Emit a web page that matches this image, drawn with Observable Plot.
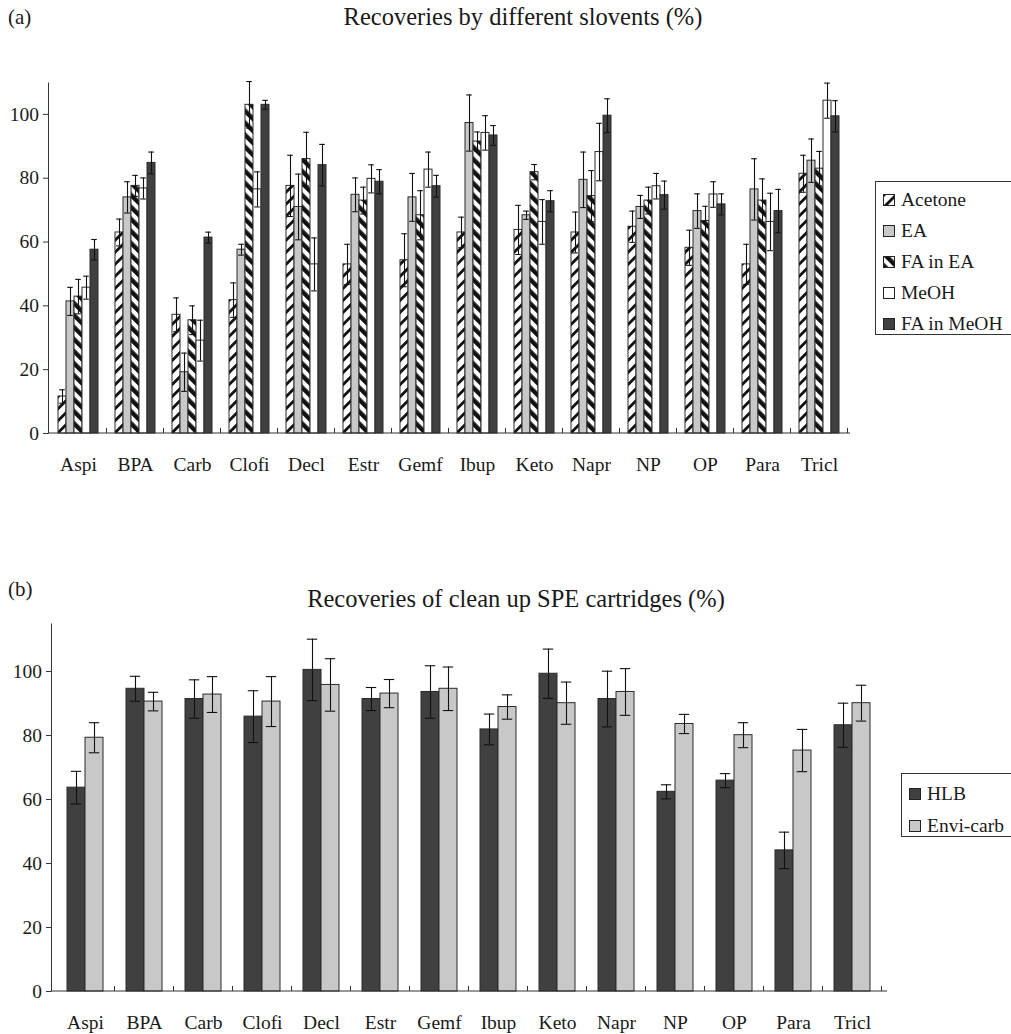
<!DOCTYPE html>
<html><head><meta charset="utf-8">
<script src="https://cdn.jsdelivr.net/npm/d3@7"></script>
<script src="https://cdn.jsdelivr.net/npm/@observablehq/plot@0.6"></script>
<style>
body{margin:0;background:#fff;}
#page{position:relative;width:1011px;height:1034px;overflow:hidden;font-family:"Liberation Serif","Times New Roman",serif;color:#1a1a1a;}
.t{position:absolute;white-space:nowrap;line-height:26px;}
.chart{position:absolute;left:0;}
.legend{position:absolute;border:1px solid #333;background:#fff;box-sizing:border-box;font-size:19.5px;}
.legend .row{display:flex;align-items:center;white-space:nowrap;}
.legend svg{margin-right:6px;flex:none;}
</style></head><body>
<svg width="0" height="0" style="position:absolute"><defs>
<pattern id="pAcetone" patternUnits="userSpaceOnUse" width="8.5" height="8.5" patternTransform="rotate(45)"><rect width="8.5" height="8.5" fill="#fff"/><rect width="2.8" height="8.5" fill="#111"/></pattern>
<pattern id="pFAEA" patternUnits="userSpaceOnUse" width="8.5" height="8.5" patternTransform="rotate(-45)"><rect width="8.5" height="8.5" fill="#fff"/><rect width="4.4" height="8.5" fill="#111"/></pattern>
</defs></svg>
<div id="page">
  <div class="t" style="left:8px;top:4px;font-size:21px">(a)</div>
  <div class="t" style="left:523px;top:4px;font-size:24.5px;transform:translateX(-50%)">Recoveries by different slovents (%)</div>
  <div class="t" style="left:8px;top:576px;font-size:21px">(b)</div>
  <div class="t" style="left:516px;top:586px;font-size:24.5px;transform:translateX(-50%)">Recoveries of clean up SPE cartridges (%)</div>
  <div id="chartA" class="chart" style="top:60px"></div>
  <div id="chartB" class="chart" style="top:600px"></div>
  <div id="legendA" class="legend" style="left:875px;top:181px;width:140px;height:154px;padding-top:2px;padding-left:7px"></div>
  <div id="legendB" class="legend" style="left:901px;top:773px;width:115px;height:64px;padding-top:4px;padding-left:7px"></div>
</div>
<script>
// ---------- data ----------
const categories = ["Aspi","BPA","Carb","Clofi","Decl","Estr","Gemf","Ibup","Keto","Napr","NP","OP","Para","Tricl"];

// (a) Recoveries by different solvents (%)
const solvents = ["Acetone","EA","FA in EA","MeOH","FA in MeOH"];
const acetone      = [11.6, 63.0, 37.2, 41.8, 77.6, 53.0, 54.3, 63.0, 63.8, 63.0, 64.8, 58.2, 53.0, 81.4];
const acetoneErr   = [ 2.1,  4.2,  5.3,  5.4,  9.6,  6.3,  8.3,  4.8,  7.7,  6.4,  4.9,  5.5,  6.3,  5.8];
const ea           = [41.4, 74.0, 19.2, 57.6, 71.0, 74.8, 74.0, 97.3, 68.4, 79.5, 71.0, 69.7, 76.5, 85.5];
const eaErr        = [ 4.4,  4.9,  6.0,  1.7, 10.3,  5.3,  7.5,  8.8,  1.3,  8.7,  3.6,  5.4,  9.6,  6.8];
const faInEA       = [42.9, 77.6, 35.5,103.0, 86.0, 73.0, 68.4, 91.5, 81.9, 74.4, 73.0, 66.6, 73.0, 83.0];
const faInEAErr    = [ 5.4,  3.3,  4.5,  7.3,  8.4,  4.2,  7.7,  3.0,  2.4,  8.0,  4.2,  4.6,  6.8,  5.4];
const meoh         = [45.7, 76.8, 29.1, 76.5, 53.0, 79.8, 82.7, 94.2, 66.3, 88.2, 77.5, 74.9, 66.3,104.3];
const meohErr      = [ 3.6,  3.3,  6.4,  5.5,  8.3,  4.4,  5.5,  5.4,  7.0,  9.0,  4.0,  4.0,  9.0,  5.5];
const faInMeOH     = [57.6, 84.8, 61.4,103.0, 84.1, 78.9, 77.5, 93.4, 72.8, 99.6, 74.7, 71.8, 69.7, 99.4];
const faInMeOHErr  = [ 3.2,  3.4,  1.7,  1.4,  6.5,  3.8,  3.4,  3.1,  3.3,  5.3,  4.4,  3.3,  6.8,  4.9];
const yTicksA = [0, 20, 40, 60, 80, 100];

// (b) Recoveries of clean up SPE cartridges (%)
const cartridges = ["HLB","Envi-carb"];
const hlb      = [63.7, 94.6, 91.4, 85.9,100.5, 91.4, 93.6, 81.9, 99.3, 91.4, 62.4, 65.9, 44.1, 83.2];
const hlbErr   = [ 5.1,  3.9,  6.0,  8.1,  9.6,  3.6,  8.2,  4.8,  7.7,  8.7,  2.2,  2.2,  5.7,  6.9];
const envi     = [79.3, 90.6, 92.8, 90.6, 95.8, 93.1, 94.6, 88.9, 90.1, 93.6, 83.6, 80.1, 75.3, 90.1];
const enviErr  = [ 4.7,  2.9,  5.6,  7.8,  8.2,  4.4,  6.8,  3.8,  6.6,  7.3,  3.0,  3.9,  6.6,  5.6];
const yTicksB = [0, 20, 40, 60, 80, 100];

// ---------- styles ----------
const DARK = "#404040", LIGHT = "#c8c8c8";
const fillsA = ["url(#pAcetone)", LIGHT, "url(#pFAEA)", "#ffffff", DARK];
const fillsB = [DARK, LIGHT];

function groupedChart({cats, names, values, errors, fills, yMax, yTicks, height, margin, padInner, capInset}) {
  const rows = cats.flatMap((c, i) => names.map((n, j) => ({cat: c, name: n, value: values[j][i], err: errors[j][i]})));
  const chart = Plot.plot({
    width: 1011, height,
    marginTop: margin[0], marginRight: margin[1], marginBottom: margin[2], marginLeft: margin[3],
    style: {fontFamily: "'Liberation Serif','Times New Roman',serif", fontSize: "19.5px", color: "#1a1a1a", background: "transparent", overflow: "visible"},
    fx: {domain: cats, paddingInner: padInner, paddingOuter: padInner / 2, axis: "bottom", tickSize: 0, tickPadding: 24, label: null},
    x: {domain: names, padding: 0, axis: null},
    y: {domain: [0, yMax], axis: null},
    color: {domain: names, range: fills},
    marks: [
      Plot.barY(rows, {fx: "cat", x: "name", y: "value", fill: "name", stroke: "#2a2a2a", strokeWidth: 1}),
      Plot.ruleX(rows, {fx: "cat", x: "name", y1: d => d.value - d.err, y2: d => d.value + d.err, stroke: "#111", strokeWidth: 1.1}),
      Plot.tickY(rows, {fx: "cat", x: "name", y: d => d.value + d.err, stroke: "#111", strokeWidth: 1.1, insetLeft: capInset, insetRight: capInset}),
      Plot.tickY(rows, {fx: "cat", x: "name", y: d => d.value - d.err, stroke: "#111", strokeWidth: 1.1, insetLeft: capInset, insetRight: capInset})
    ]
  });
  // axes drawn from the plot's own scales
  const svg = d3.select(chart);
  const yS = chart.scale("y"), fxS = chart.scale("fx");
  const y = d3.scaleLinear().domain(yS.domain).range(yS.range);
  const [x0, x1] = fxS.range;
  const g = svg.append("g").attr("transform", `translate(${x0},0)`)
    .call(d3.axisLeft(y).tickValues(yTicks).tickSize(5).tickSizeOuter(0).tickPadding(4));
  g.attr("font-size", null).attr("font-family", null);
  g.selectAll("path,line").attr("stroke", "#333");
  g.selectAll("text").attr("fill", "#1a1a1a");
  svg.append("line").attr("x1", x0).attr("x2", x1).attr("y1", y(0)).attr("y2", y(0)).attr("stroke", "#333");
  const step = fxS.step, bw = fxS.bandwidth;
  cats.forEach(c => {
    const xb = fxS.apply(c) + bw + (step - bw) / 2;
    svg.append("line").attr("x1", xb).attr("x2", xb).attr("y1", y(0)).attr("y2", y(0) - 5).attr("stroke", "#333");
  });
  return chart;
}

document.getElementById("chartA").append(groupedChart({
  cats: categories, names: solvents,
  values: [acetone, ea, faInEA, meoh, faInMeOH],
  errors: [acetoneErr, eaErr, faInEAErr, meohErr, faInMeOHErr],
  fills: fillsA, yMax: 110, yTicks: yTicksA, height: 420,
  margin: [22, 161, 47, 48], padInner: 0.227, capInset: 1.2
}));

document.getElementById("chartB").append(groupedChart({
  cats: categories, names: cartridges,
  values: [hlb, envi], errors: [hlbErr, enviErr],
  fills: fillsB, yMax: 115, yTicks: yTicksB, height: 434,
  margin: [23, 124, 43, 51], padInner: 0.385, capInset: 3.8
}));

function legend(id, names, fills, rowH) {
  const el = document.getElementById(id);
  names.forEach((n, j) => {
    const row = document.createElement("div");
    row.className = "row";
    row.style.height = rowH + "px";
    row.innerHTML = `<svg width="12" height="12"><rect x="0.5" y="0.5" width="11" height="11" fill="${fills[j]}" stroke="#222"/></svg><span>${n}</span>`;
    el.append(row);
  });
}
legend("legendA", solvents, fillsA, 31);
legend("legendB", cartridges, fillsB, 32);
</script>
</body></html>
